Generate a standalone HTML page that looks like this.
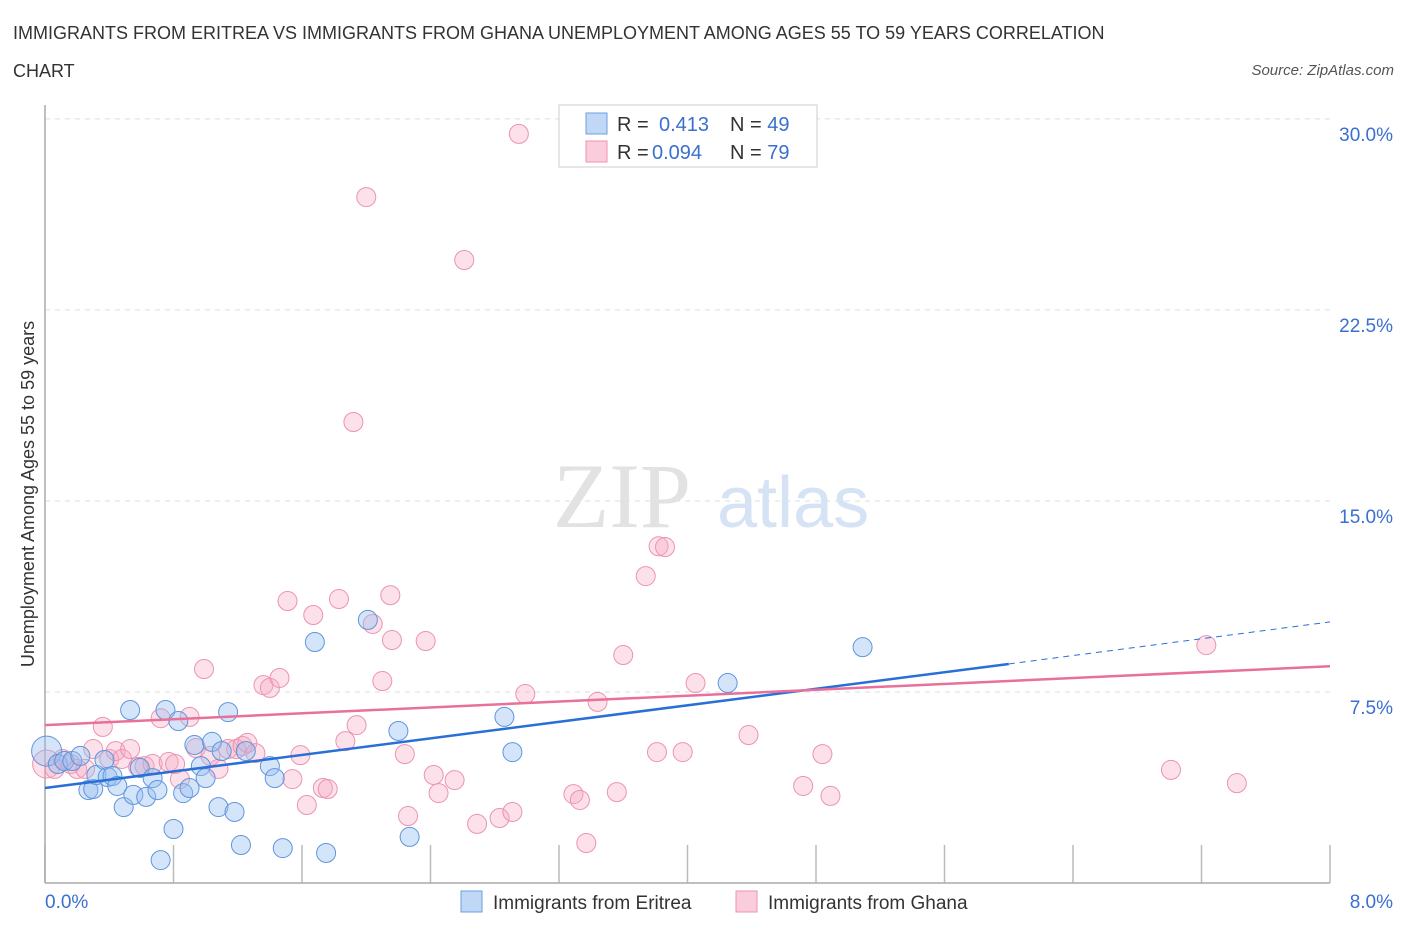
<!DOCTYPE html>
<html><head><meta charset="utf-8"><style>
body{margin:0;background:#fff;font-family:"Liberation Sans",sans-serif;}
#wrap{position:relative;width:1406px;height:930px;overflow:hidden;}
.t{position:absolute;white-space:nowrap;}
</style></head><body>
<div id="wrap">
<div class="t" style="left:13px;top:14px;font-size:18px;color:#333;line-height:38px;width:1150px;white-space:normal">IMMIGRANTS FROM ERITREA VS IMMIGRANTS FROM GHANA UNEMPLOYMENT AMONG AGES 55 TO 59 YEARS CORRELATION CHART</div>
<div class="t" style="right:12px;top:62px;font-size:15px;color:#555;font-style:italic">Source: ZipAtlas.com</div>
<svg id="svg" width="1406" height="930" style="position:absolute;left:0;top:0"></svg>
</div>
<script>
const yTicks=[7.5,15,22.5,30];
const yTickLabels=["7.5%","15.0%","22.5%","30.0%"];
const xTickLabels=["0.0%","8.0%"];
const eritreaX=[0.01,0.08,0.12,0.17,0.22,0.27,0.30,0.32,0.37,0.39,0.42,0.45,0.49,0.53,0.55,0.59,0.63,0.67,0.70,0.72,0.75,0.80,0.83,0.86,0.90,0.93,0.97,1.00,1.04,1.08,1.10,1.14,1.18,1.22,1.25,1.40,1.43,1.48,1.68,1.75,2.01,2.20,2.27,2.86,2.91,4.25,5.09];
const eritreaY=[5.18,4.67,4.79,4.79,4.99,3.65,3.69,4.24,4.83,4.16,4.20,3.81,2.98,6.79,3.46,4.52,3.38,4.12,3.65,0.90,6.79,2.12,6.36,3.53,3.73,5.42,4.59,4.12,5.54,2.98,5.18,6.71,2.79,1.49,5.18,4.59,4.12,1.37,9.46,1.18,10.33,5.97,1.81,6.52,5.14,7.85,9.26];
const ghanaX=[0.01,0.06,0.11,0.16,0.20,0.25,0.30,0.36,0.40,0.44,0.48,0.53,0.58,0.62,0.67,0.72,0.77,0.81,0.84,0.90,0.94,0.99,1.03,1.08,1.14,1.19,1.23,1.26,1.31,1.36,1.40,1.46,1.51,1.54,1.59,1.63,1.67,1.73,1.76,1.83,1.87,1.92,1.94,2.00,2.04,2.10,2.15,2.16,2.24,2.26,2.37,2.42,2.45,2.55,2.61,2.69,2.83,2.91,2.95,2.99,3.29,3.33,3.37,3.44,3.56,3.60,3.74,3.82,3.86,3.81,3.97,4.05,4.38,4.72,4.84,4.89,7.01,7.23,7.42];
const ghanaY=[4.67,4.48,4.87,4.67,4.48,4.48,5.26,6.13,4.87,5.18,4.87,5.26,4.56,4.59,4.67,6.47,4.75,4.67,4.08,6.52,5.30,8.40,4.99,4.48,5.26,5.26,5.38,5.50,5.10,7.77,7.66,8.05,11.07,4.08,5.02,3.06,10.52,3.73,3.69,11.15,5.57,18.10,6.20,26.93,10.17,7.93,11.30,9.54,5.06,2.63,9.50,4.24,3.53,4.04,24.46,2.32,2.55,2.79,29.41,7.42,3.49,3.26,1.57,7.11,3.57,8.95,12.05,13.22,13.19,5.14,5.14,7.85,5.81,3.81,5.06,3.42,4.44,9.34,3.92];
const eritreaTrend=[3.73,8.60,10.25];
const ghanaTrend=[6.20,8.51];
const svg=document.getElementById('svg');const NS='http://www.w3.org/2000/svg';
const X0=45,X1=1330,Y0=883;
function sx(v){return X0+v*(X1-X0)/8;}
function sy(v){return Y0-v*25.47;}
function mk(tag,attrs,parent){const e=document.createElementNS(NS,tag);for(const k in attrs)e.setAttribute(k,attrs[k]);(parent||svg).appendChild(e);return e;}
yTicks.forEach((t,i)=>{
 const g=mk('line',{x1:X0,x2:X1,y1:sy(t),y2:sy(t),stroke:'#ddd','stroke-dasharray':'5,5'});
 
 
 const l=mk('text',{x:1393,y:sy(t)+22,'text-anchor':'end','font-size':19,fill:'#3a6fd0','font-family':'Liberation Sans, sans-serif'});l.textContent=yTickLabels[i];
 
 
});
for(let i=0;i<=10;i++){const x=X0+i*(X1-X0)/10;const t=mk('line',{x1:x,x2:x,y1:845,y2:Y0,stroke:'#bbb','stroke-width':1.5});
 
 }
const ax=mk('line',{x1:X0,x2:X0,y1:105,y2:Y0,stroke:'#aaa','stroke-width':1.5});


const bx=mk('line',{x1:X0,x2:X1,y1:Y0,y2:Y0,stroke:'#aaa','stroke-width':1.5});


const w1=mk('text',{x:553,y:527,'font-size':92,fill:'#e2e2e2','font-family':'Liberation Serif, serif'});w1.textContent='ZIP';


const w2=mk('text',{x:717,y:527,'font-size':72,fill:'#d6e3f5','font-family':'Liberation Sans, sans-serif'});w2.textContent='atlas';


ghanaX.forEach((x,i)=>{const c=mk('circle',{cx:sx(x),cy:sy(ghanaY[i]),r:i==0?14:9.5,fill:'rgba(246,170,196,0.35)',stroke:'#ec93b0','stroke-width':1});
 
 });
eritreaX.forEach((x,i)=>{const c=mk('circle',{cx:sx(x),cy:sy(eritreaY[i]),r:i==0?15:9.5,fill:'rgba(150,190,240,0.4)',stroke:'#5f95de','stroke-width':1});
 
 });
const bt=mk('line',{x1:sx(0),y1:sy(eritreaTrend[0]),x2:sx(6),y2:sy(eritreaTrend[1]),stroke:'#2a6fd6','stroke-width':2.5});


const bd=mk('line',{x1:sx(6),y1:sy(eritreaTrend[1]),x2:sx(8),y2:sy(eritreaTrend[2]),stroke:'#2a6fd6','stroke-width':1,'stroke-dasharray':'6,5'});


const pt=mk('line',{x1:sx(0),y1:sy(ghanaTrend[0]),x2:sx(8),y2:sy(ghanaTrend[1]),stroke:'#e8709a','stroke-width':2.5});


xTickLabels.forEach((s,i)=>{const t=mk('text',{x:i?1393:45,y:908,'text-anchor':i?'end':'start','font-size':19,fill:'#3a6fd0','font-family':'Liberation Sans, sans-serif'});t.textContent=s;
 
 });
const yt=mk('text',{transform:'translate(34,494) rotate(-90)','text-anchor':'middle','font-size':18,fill:'#333','font-family':'Liberation Sans, sans-serif'});yt.textContent='Unemployment Among Ages 55 to 59 years';


const lg=mk('rect',{x:559,y:105,width:258,height:62,fill:'#fff',stroke:'#ccc'});


[['rgba(150,190,240,0.6)','#6a9fe0','0.413','49',123,659],['rgba(246,170,196,0.6)','#ec93b0','0.094','79',151,652]].forEach(r=>{
 const s=mk('rect',{x:586,y:r[4]-10,width:21,height:21,fill:r[0],stroke:r[1]});
 
 
 const t=mk('text',{x:617,y:r[4]+8,'font-size':20,fill:'#333','font-family':'Liberation Sans, sans-serif'});
 t.innerHTML='R = <tspan x="'+r[5]+'" fill="#3a6fd0">'+r[2]+'</tspan><tspan x="730">N = </tspan><tspan fill="#3a6fd0">'+r[3]+'</tspan>';
 
 
});
[['rgba(150,190,240,0.6)','#6a9fe0','Immigrants from Eritrea',461],['rgba(246,170,196,0.6)','#ec93b0','Immigrants from Ghana',736]].forEach(r=>{
 const s=mk('rect',{x:r[3],y:891,width:21,height:21,fill:r[0],stroke:r[1]});
 
 
 const t=mk('text',{x:r[3]+32,y:909,'font-size':19,fill:'#333','font-family':'Liberation Sans, sans-serif'});t.textContent=r[2];
 
 
});
</script>
</body></html>
